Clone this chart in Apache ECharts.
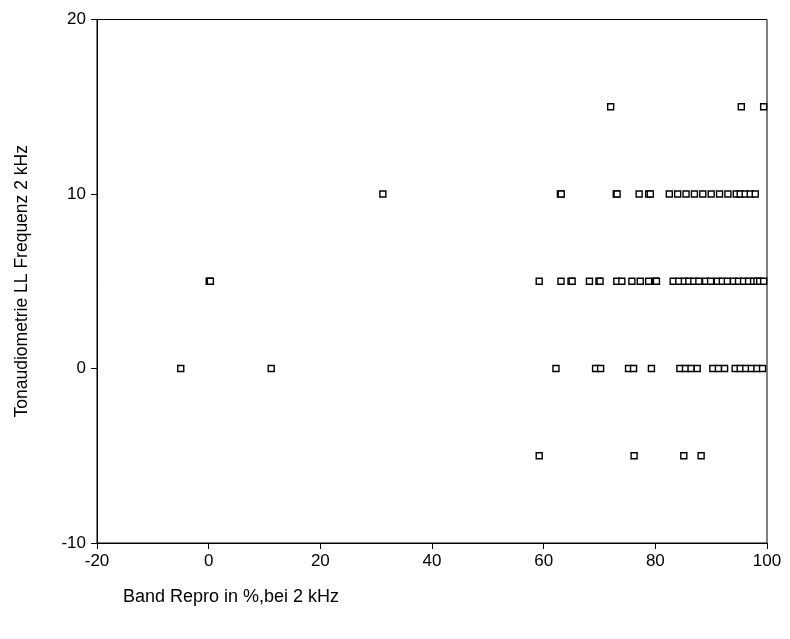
<!DOCTYPE html>
<html>
<head>
<meta charset="utf-8">
<script src="https://cdn.jsdelivr.net/npm/echarts@6/dist/echarts.min.js"></script>
<style>html,body{margin:0;padding:0;background:#fff;}#c{width:790px;height:639px;}</style>
</head>
<body>
<div id="c"></div>
<script>
// x values (Band Repro in %) grouped by y level (Tonaudiometrie)
const xAt15 = [72, 95.4, 99.4];
const xAt10 = [31.2, 63, 63.15, 73, 73.15, 77.1, 78.8, 79.1, 82.5, 84, 85.5, 87, 88.5, 90, 91.5, 93, 94.5, 95.2, 96.1, 97, 97.9];
const xAt5 = [0.1, 0.3, 59.2, 63.1, 64.9, 65.1, 68.2, 69.9, 70.1, 73.1, 74, 75.8, 77.3, 78.8, 80, 80.2, 83.2, 84.2, 85.2, 86, 86.9, 87.8, 89, 89.9, 91.1, 92, 92.9, 94, 94.9, 95.8, 96.7, 97.6, 98.2, 98.7, 99.4];
const xAt0 = [-5, 11.2, 62.2, 69.3, 70.2, 75.2, 76.1, 79.3, 84.4, 85.4, 86.4, 87.5, 90.3, 91.3, 92.4, 94.3, 95.2, 96.2, 97.2, 98.2, 99.2];
const xAtM5 = [59.2, 76.2, 85.1, 88.2];
const yLevels = [15, 10, 5, 0, -5];
const xGroups = [xAt15, xAt10, xAt5, xAt0, xAtM5];

const points = [];
yLevels.forEach((y, i) => xGroups[i].forEach(x => points.push([x, y])));

const font = 'Liberation Sans, Arial, sans-serif';
const chart = echarts.init(document.getElementById('c'), null, {renderer: 'canvas'});
chart.setOption({
  animation: false,
  backgroundColor: '#fff',
  grid: {left: 97, top: 19.5, right: 23, bottom: 96, show: true, borderColor: '#000', borderWidth: 1, backgroundColor: 'transparent'},
  xAxis: {
    type: 'value', min: -20, max: 100, interval: 20,
    axisLine: {show: true, onZero: false, lineStyle: {color: '#000', width: 1}},
    axisTick: {show: true, length: 6, lineStyle: {color: '#000'}},
    axisLabel: {color: '#000', fontSize: 17, fontFamily: font, margin: 10},
    splitLine: {show: false}
  },
  yAxis: {
    type: 'value', min: -10, max: 20, interval: 10,
    name: 'Tonaudiometrie LL Frequenz 2 kHz',
    nameLocation: 'middle', nameGap: 66, nameRotate: 90,
    nameTextStyle: {color: '#000', fontSize: 17.5, fontFamily: font},
    axisLine: {show: true, onZero: false, lineStyle: {color: '#000', width: 1}},
    axisTick: {show: true, length: 6, lineStyle: {color: '#000'}},
    axisLabel: {color: '#000', fontSize: 17, fontFamily: font, margin: 11},
    splitLine: {show: false}
  },
  graphic: [{
    type: 'text', left: 123, top: 588,
    style: {text: 'Band Repro in %,bei 2 kHz', fill: '#000', font: '18px ' + font}
  }],
  series: [{
    type: 'scatter',
    data: points,
    symbol: 'rect',
    symbolSize: 6,
    itemStyle: {color: '#fff', borderColor: '#000', borderWidth: 1.4, opacity: 1}
  }]
});
</script>
</body>
</html>
